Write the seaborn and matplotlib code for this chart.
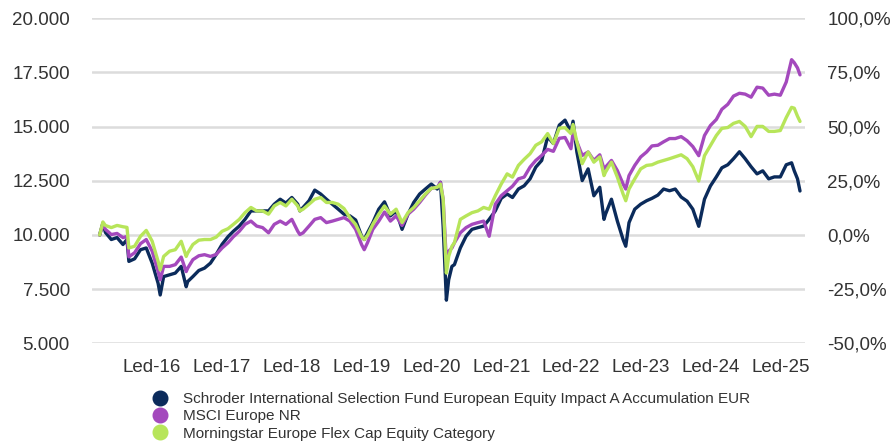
import pandas as pd
import numpy as np
import matplotlib
matplotlib.use("Agg")
import matplotlib.pyplot as plt
from matplotlib.lines import Line2D
from matplotlib.ticker import FuncFormatter
import seaborn as sns

# values (growth of 10.000)
dates = [
    "2015-04-01", "2015-04-18", "2015-05-01", "2015-06-01", "2015-07-01", "2015-08-01", "2015-08-22", "2015-09-01", "2015-10-01", "2015-11-01", "2015-12-01",
    "2016-01-01", "2016-02-01", "2016-02-12", "2016-03-01", "2016-04-01", "2016-05-01", "2016-06-01", "2016-06-27", "2016-07-05", "2016-08-01", "2016-09-01", "2016-10-01", "2016-11-01", "2016-12-01",
    "2017-01-01", "2017-02-01", "2017-03-01", "2017-04-01", "2017-05-01", "2017-06-01", "2017-07-01", "2017-08-01", "2017-09-01", "2017-10-01", "2017-11-01", "2017-12-01",
    "2018-01-01", "2018-02-01", "2018-02-12", "2018-03-01", "2018-04-01", "2018-05-01", "2018-06-01", "2018-07-01", "2018-08-01", "2018-09-01", "2018-10-01", "2018-11-01", "2018-12-01",
    "2019-01-01", "2019-01-15", "2019-02-01", "2019-03-01", "2019-04-01", "2019-05-01", "2019-06-01", "2019-07-01", "2019-08-01", "2019-09-01", "2019-10-01", "2019-11-01", "2019-12-01",
    "2020-01-01", "2020-02-01", "2020-02-18", "2020-03-03", "2020-03-20", "2020-04-01", "2020-04-18", "2020-05-01", "2020-06-01", "2020-07-01", "2020-08-01", "2020-09-01", "2020-10-01", "2020-10-30", "2020-12-01",
    "2021-01-01", "2021-02-01", "2021-03-01", "2021-04-01", "2021-05-01", "2021-06-01", "2021-07-01", "2021-08-01", "2021-09-01", "2021-10-01", "2021-11-01", "2021-12-01",
    "2022-01-01", "2022-01-12", "2022-02-01", "2022-03-01", "2022-04-01", "2022-05-01", "2022-06-01", "2022-06-23", "2022-07-01", "2022-08-01", "2022-09-01", "2022-10-01", "2022-10-15", "2022-11-01", "2022-12-01",
    "2023-01-01", "2023-02-01", "2023-03-01", "2023-04-01", "2023-05-01", "2023-06-01", "2023-07-01", "2023-08-01", "2023-09-01", "2023-10-01", "2023-11-01", "2023-12-01",
    "2024-01-01", "2024-02-01", "2024-03-01", "2024-04-01", "2024-05-01", "2024-06-01", "2024-07-01", "2024-08-01", "2024-09-01", "2024-10-01", "2024-11-01", "2024-12-01",
    "2025-01-01", "2025-02-01", "2025-03-01", "2025-03-15", "2025-04-01", "2025-04-14",
]

fund = [
    10000, 10550, 10120, 9790, 9880, 9560, 9790, 8780, 8900, 9320, 9400,
    8700, 7770, 7230, 8080, 8160, 8240, 8550, 7610, 7850, 8080, 8360, 8470, 8700, 9100,
    9570, 9920, 10170, 10410, 10720, 11110, 11110, 11110, 11110, 11420, 11650, 11470,
    11730, 11420, 11110, 11270, 11580, 12070, 11890, 11650, 11420, 11190, 10960, 10880, 10690,
    9950, 9790, 10100, 10570, 11190, 11530, 10880, 11110, 10260, 10960, 11500, 11890, 12120,
    12350, 12120, 12430, 10400, 6990, 7930, 8550, 8630, 9400, 9940, 10260, 10340, 10410, 10720, 11110,
    11690, 11890, 11730, 12120, 12270, 12590, 13130, 13440, 14530, 14220, 15070, 15300,
    14760, 15250, 13830, 12510, 13050, 11810, 12200, 10720, 10960, 11650, 10640, 9790, 9480, 10570, 11190,
    11420, 11580, 11690, 11840, 12120, 12040, 12120, 11750, 11560, 11190, 10400, 11650,
    12260, 12680, 13100, 13240, 13520, 13840, 13520, 13150, 12820, 12960, 12590, 12680,
    12680, 13240, 13330, 12960, 12590, 12030,
]

msci = [
    10000, 10500, 10260, 10020, 10070, 9880, 9930, 8990, 9180, 9600, 9790,
    9250, 8310, 7930, 8550, 8550, 8630, 8980, 8310, 8470, 8860, 9040, 9090, 9010, 9100,
    9400, 9640, 9920, 10170, 10490, 10640, 10410, 10340, 10100, 10490, 10640, 10490,
    10720, 10170, 10020, 10100, 10410, 10720, 10800, 10570, 10640, 10720, 10800, 10640, 10260,
    9560, 9320, 9640, 10260, 10640, 11060, 10640, 10880, 10440, 10960, 11190, 11500, 11840,
    12150, 12200, 12430, 11650, 8770, 9250, 9400, 9640, 10100, 10340, 10490, 10570, 10640, 9940, 11420,
    11810, 12040, 12250, 12590, 12670, 13130, 13440, 13670, 13950, 13860, 14460, 14500,
    13980, 14700, 14300, 13670, 13830, 13440, 13700, 13050, 13130, 13440, 12970, 12350, 12120, 12740, 13210,
    13600, 13830, 14110, 14140, 14300, 14450, 14450, 14540, 14350, 14080, 13660, 14590,
    15050, 15330, 15800, 16030, 16410, 16540, 16500, 16360, 16820, 16780, 16450, 16500,
    16450, 17060, 18090, 17950, 17710, 17390,
]

category = [
    10000, 10600, 10440, 10340, 10440, 10380, 10350, 9400, 9480, 9940, 10210,
    9710, 8780, 8390, 9010, 9250, 9320, 9710, 9010, 9170, 9560, 9760, 9790, 9790, 9900,
    10170, 10290, 10490, 10720, 11030, 11270, 11110, 11110, 10960, 11340, 11500, 11340,
    11650, 11340, 11110, 11190, 11420, 11650, 11730, 11500, 11500, 11420, 11220, 10800, 10490,
    9920, 9790, 9980, 10490, 10960, 11340, 10960, 11190, 10570, 11030, 11270, 11580, 11890,
    12150, 12200, 12350, 11650, 8240, 9010, 9480, 9640, 10720, 10880, 11030, 11110, 11270, 11190, 11810,
    12350, 12820, 12670, 13210, 13490, 13750, 14140, 14300, 14680, 14220, 14930, 14950,
    14680, 15100, 14300, 13290, 13830, 13360, 13600, 12740, 12900, 13360, 12670, 11890, 11580, 12120, 12590,
    13050, 13210, 13240, 13360, 13440, 13520, 13610, 13700, 13520, 13150, 12490, 13660,
    14120, 14590, 14920, 14960, 15150, 15240, 15010, 14540, 15010, 15010, 14780, 14780,
    14820, 15420, 15890, 15850, 15480, 15240,
]

series_names = [
    "Schroder International Selection Fund European Equity Impact A Accumulation EUR",
    "MSCI Europe NR",
    "Morningstar Europe Flex Cap Equity Category",
]
colors = ["#0b2b5b", "#a449bd", "#b7e55a"]

tick_dates = ["2016-01-01", "2017-01-01", "2018-01-01", "2019-01-01", "2020-01-01",
              "2021-01-01", "2022-01-01", "2023-01-01", "2024-01-01", "2025-01-01"]
tick_labels = ["Led-16", "Led-17", "Led-18", "Led-19", "Led-20",
               "Led-21", "Led-22", "Led-23", "Led-24", "Led-25"]

df = pd.DataFrame({"date": pd.to_datetime(dates),
                   series_names[0]: fund,
                   series_names[1]: msci,
                   series_names[2]: category})
df = df.melt(id_vars="date", var_name="series", value_name="value")

sns.set_style("white")
plt.rcParams["font.family"] = ["Liberation Sans", "DejaVu Sans"]

fig = plt.figure(figsize=(8.95, 4.42), dpi=100)
ax = fig.add_axes([0.1028, 0.2233, 0.7966, 0.7353])

sns.lineplot(data=df, x="date", y="value", hue="series", hue_order=series_names,
             palette=colors, linewidth=2.4, legend=False, ax=ax)

ax.set_xlim(pd.Timestamp("2015-02-20"), pd.Timestamp("2025-05-10"))
ax.set_ylim(5000, 20000)
ax.set_yticks(np.arange(5000, 20001, 2500))
ax.yaxis.set_major_formatter(FuncFormatter(lambda v, p: f"{v:,.0f}".replace(",", ".")))
ax.set_xticks(pd.to_datetime(tick_dates))
ax.set_xticklabels(tick_labels)
ax.grid(axis="y", color="#dcdcdc", linewidth=1.8)
ax.grid(axis="x", visible=False)
ax.set_axisbelow(True)
ax.tick_params(axis="y", length=0, pad=16, labelsize=13.5, labelcolor="#333333")
ax.tick_params(axis="x", length=0, pad=11, labelsize=13.5, labelcolor="#333333")
ax.set_xlabel("")
ax.set_ylabel("")
for s in ax.spines.values():
    s.set_visible(False)

ax2 = ax.twinx()
ax2.set_ylim(-0.5, 1.0)
ax2.set_yticks(np.arange(-0.5, 1.01, 0.25))
ax2.yaxis.set_major_formatter(FuncFormatter(lambda v, p: f"{v * 100:.1f}%".replace(".", ",")))
ax2.tick_params(axis="y", length=0, pad=16, labelsize=13.5, labelcolor="#333333")
ax2.grid(False)
for s in ax2.spines.values():
    s.set_visible(False)

handles = [Line2D([], [], marker="o", linestyle="none", markersize=10.5,
                  markerfacecolor=c, markeredgecolor=c) for c in colors]
fig.legend(handles, series_names, loc="upper left", bbox_to_anchor=(151 / 895, 1 - 392 / 442),
           frameon=False, fontsize=11, handletextpad=0.9, labelspacing=0.22,
           borderaxespad=0, borderpad=0, handlelength=1.2, labelcolor="#333333")

fig.savefig("out.png", dpi=100)
